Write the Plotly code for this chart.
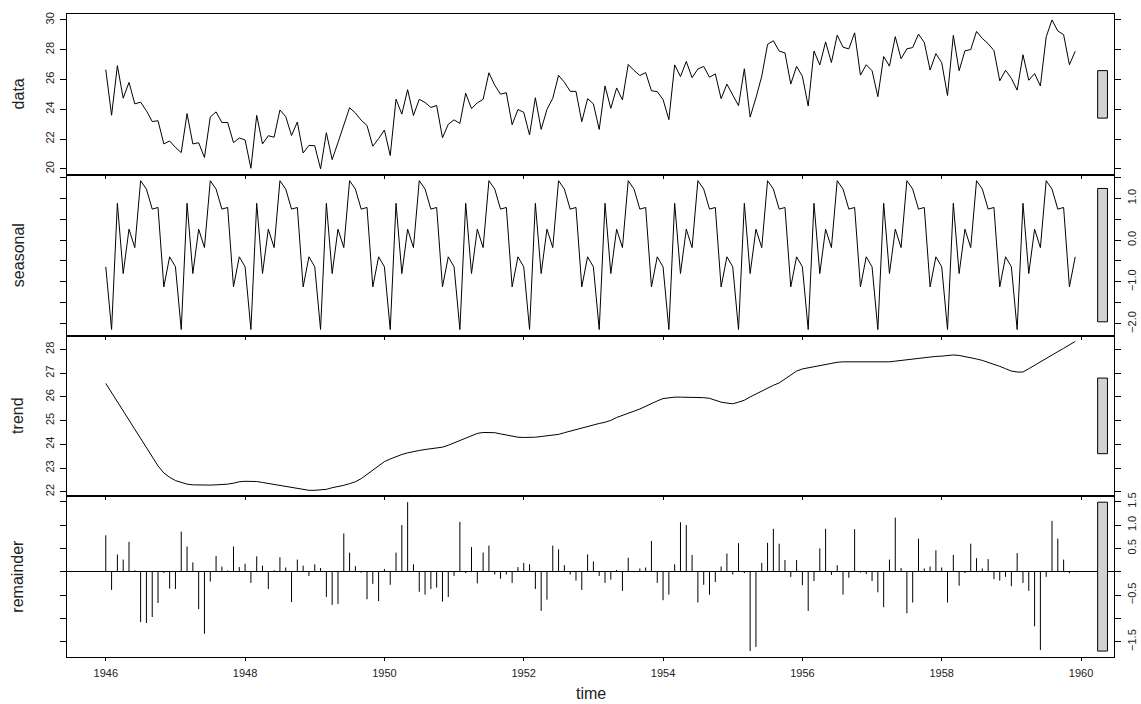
import plotly.graph_objects as go

# ---------------- data ----------------
years = list(range(1946, 1960))
months = list(range(12))
time = [y + m / 12 for y in years for m in months]

data = [
    26.663, 23.598, 26.931, 24.740, 25.806, 24.364, 24.477, 23.901, 23.175, 23.227, 21.672, 21.870,
    21.439, 21.089, 23.709, 21.669, 21.752, 20.761, 23.479, 23.824, 23.105, 23.110, 21.759, 22.073,
    21.937, 20.035, 23.590, 21.672, 22.222, 22.123, 23.950, 23.504, 22.238, 23.142, 21.059, 21.573,
    21.548, 20.000, 22.424, 20.615, 21.761, 22.874, 24.104, 23.748, 23.262, 22.907, 21.519, 22.025,
    22.604, 20.894, 24.677, 23.673, 25.320, 23.583, 24.671, 24.454, 24.122, 24.252, 22.084, 22.991,
    23.287, 23.049, 25.076, 24.037, 24.430, 24.667, 26.451, 25.618, 25.014, 25.110, 22.964, 23.981,
    23.798, 22.270, 24.775, 22.646, 23.988, 24.737, 26.276, 25.816, 25.210, 25.199, 23.162, 24.707,
    24.364, 22.644, 25.565, 24.062, 25.431, 24.635, 27.009, 26.606, 26.268, 26.462, 25.246, 25.180,
    24.657, 23.304, 26.982, 26.199, 27.210, 26.122, 26.706, 26.878, 26.152, 26.379, 24.712, 25.688,
    24.990, 24.239, 26.721, 23.475, 24.767, 26.219, 28.361, 28.599, 27.914, 27.784, 25.693, 26.881,
    26.217, 24.218, 27.914, 26.975, 28.527, 27.139, 28.982, 28.169, 28.056, 29.136, 26.291, 26.987,
    26.589, 24.848, 27.543, 26.896, 28.878, 27.390, 28.065, 28.141, 29.048, 28.484, 26.634, 27.735,
    27.132, 24.924, 28.963, 26.589, 27.931, 28.009, 29.229, 28.759, 28.405, 27.945, 25.912, 26.619,
    26.076, 25.286, 27.660, 25.951, 26.398, 25.565, 28.865, 30.000, 29.261, 29.012, 26.992, 27.897,
]

seasonal = [
    -0.64, -2.14, 0.88, -0.80, 0.26, -0.18, 1.42, 1.22, 0.74, 0.78, -1.12, -0.40,
    -0.64, -2.14, 0.88, -0.80, 0.26, -0.18, 1.42, 1.22, 0.74, 0.78, -1.12, -0.40,
    -0.64, -2.14, 0.88, -0.80, 0.26, -0.18, 1.42, 1.22, 0.74, 0.78, -1.12, -0.40,
    -0.64, -2.14, 0.88, -0.80, 0.26, -0.18, 1.42, 1.22, 0.74, 0.78, -1.12, -0.40,
    -0.64, -2.14, 0.88, -0.80, 0.26, -0.18, 1.42, 1.22, 0.74, 0.78, -1.12, -0.40,
    -0.64, -2.14, 0.88, -0.80, 0.26, -0.18, 1.42, 1.22, 0.74, 0.78, -1.12, -0.40,
    -0.64, -2.14, 0.88, -0.80, 0.26, -0.18, 1.42, 1.22, 0.74, 0.78, -1.12, -0.40,
    -0.64, -2.14, 0.88, -0.80, 0.26, -0.18, 1.42, 1.22, 0.74, 0.78, -1.12, -0.40,
    -0.64, -2.14, 0.88, -0.80, 0.26, -0.18, 1.42, 1.22, 0.74, 0.78, -1.12, -0.40,
    -0.64, -2.14, 0.88, -0.80, 0.26, -0.18, 1.42, 1.22, 0.74, 0.78, -1.12, -0.40,
    -0.64, -2.14, 0.88, -0.80, 0.26, -0.18, 1.42, 1.22, 0.74, 0.78, -1.12, -0.40,
    -0.64, -2.14, 0.88, -0.80, 0.26, -0.18, 1.42, 1.22, 0.74, 0.78, -1.12, -0.40,
    -0.64, -2.14, 0.88, -0.80, 0.26, -0.18, 1.42, 1.22, 0.74, 0.78, -1.12, -0.40,
    -0.64, -2.14, 0.88, -0.80, 0.26, -0.18, 1.42, 1.22, 0.74, 0.78, -1.12, -0.40,
]

trend = [
    26.57, 26.18, 25.80, 25.41, 25.02, 24.63, 24.24, 23.85, 23.46, 23.09, 22.79, 22.61,
    22.47, 22.39, 22.32, 22.29, 22.28, 22.28, 22.28, 22.29, 22.29, 22.32, 22.36, 22.42,
    22.44, 22.45, 22.43, 22.39, 22.35, 22.29, 22.25, 22.21, 22.17, 22.12, 22.08, 22.06,
    22.06, 22.07, 22.10, 22.17, 22.21, 22.27, 22.34, 22.42, 22.55, 22.73, 22.93, 23.11,
    23.27, 23.38, 23.48, 23.57, 23.64, 23.70, 23.74, 23.78, 23.82, 23.85, 23.88, 23.96,
    24.06, 24.18, 24.29, 24.39, 24.46, 24.50, 24.51, 24.49, 24.44, 24.39, 24.33, 24.30,
    24.29, 24.29, 24.30, 24.33, 24.35, 24.38, 24.42, 24.49, 24.56, 24.63, 24.70, 24.77,
    24.83, 24.88, 24.93, 25.01, 25.13, 25.23, 25.31, 25.40, 25.49, 25.61, 25.72, 25.83,
    25.93, 25.97, 25.99, 25.99, 25.99, 25.99, 25.99, 25.97, 25.94, 25.86, 25.78, 25.74,
    25.71, 25.78, 25.86, 26.00, 26.13, 26.25, 26.38, 26.49, 26.59, 26.75, 26.93, 27.09,
    27.18, 27.23, 27.28, 27.34, 27.39, 27.44, 27.46, 27.48, 27.48, 27.48, 27.46, 27.46,
    27.46, 27.46, 27.46, 27.48, 27.51, 27.54, 27.58, 27.62, 27.65, 27.67, 27.70, 27.71,
    27.72, 27.75, 27.77, 27.75, 27.71, 27.65, 27.60, 27.54, 27.46, 27.39, 27.29, 27.19,
    27.09, 27.05, 27.05, 27.19, 27.34, 27.48, 27.62, 27.78, 27.91, 28.05, 28.20, 28.34,
]

remainder = [
    0.78, -0.39, 0.37, 0.26, 0.64, 0.03, -1.08, -1.10, -0.97, -0.67, -0.03, -0.36,
    -0.37, 0.86, 0.54, 0.20, -0.80, -1.33, -0.21, 0.34, 0.11, 0.03, 0.54, 0.10,
    0.17, -0.24, 0.33, 0.13, -0.37, 0.03, 0.31, 0.09, -0.65, 0.26, 0.13, -0.09,
    0.16, 0.08, -0.54, -0.71, -0.69, 0.82, 0.41, 0.12, -0.02, -0.59, -0.26, -0.63,
    0.06, -0.28, 0.41, 1.00, 1.49, 0.16, -0.43, -0.49, -0.37, -0.34, -0.64, -0.54,
    -0.09, 1.07, -0.03, 0.53, -0.25, 0.41, 0.56, -0.06, -0.15, -0.06, -0.24, 0.10,
    0.19, 0.16, -0.37, -0.84, -0.60, 0.56, 0.48, 0.14, -0.06, -0.19, -0.39, 0.37,
    0.22, -0.09, -0.24, -0.17, 0.04, -0.41, 0.30, -0.01, 0.07, 0.09, 0.66, -0.24,
    -0.61, -0.49, 0.16, 1.06, 1.00, 0.36, -0.66, -0.28, -0.49, -0.22, 0.11, 0.39,
    -0.06, 0.61, -0.03, -1.70, -1.61, 0.19, 0.62, 0.92, 0.60, 0.25, -0.11, 0.25,
    -0.29, -0.84, -0.20, 0.50, 0.92, -0.07, 0.14, -0.49, -0.13, 0.91, -0.02, -0.05,
    -0.20, -0.44, -0.76, 0.26, 1.16, 0.08, -0.89, -0.66, 0.71, 0.07, 0.11, 0.46,
    0.09, -0.66, 0.36, -0.30, -0.03, 0.60, 0.29, 0.07, 0.27, -0.16, -0.19, -0.11,
    -0.31, 0.40, -0.24, -0.41, -1.17, -1.68, -0.11, 1.09, 0.71, 0.26, -0.03, -0.01,
]

panel_names = ["data", "seasonal", "trend", "remainder"]
x_tick_vals = [1946, 1948, 1950, 1952, 1954, 1956, 1958, 1960]
data_ticks = [20, 22, 24, 26, 28, 30]
seasonal_ticks = [-2.0, -1.5, -1.0, -0.5, 0.0, 0.5, 1.0, 1.5]
seasonal_labels = ["\u22122.0", "", "\u22121.0", "", "0.0", "", "1.0", ""]
trend_ticks = [22, 23, 24, 25, 26, 27, 28]
remainder_ticks = [-1.5, -1.0, -0.5, 0.0, 0.5, 1.0, 1.5]
remainder_labels = ["\u22121.5", "", "\u22120.5", "", "0.5", "1.0", "1.5"]

# ---------------- figure ----------------
FONT = "Liberation Sans, Arial, sans-serif"
series = [data, seasonal, trend, remainder]


def ext_range(v):
    lo, hi = min(v), max(v)
    d = 0.04 * (hi - lo)
    return [lo - d, hi + d]


xr = ext_range(time)
yranges = [ext_range(s) for s in series]

fig = go.Figure()
line_style = dict(color="black", width=1)
fig.add_trace(go.Scatter(x=time, y=data, mode="lines", line=line_style, xaxis="x", yaxis="y"))
fig.add_trace(go.Scatter(x=time, y=seasonal, mode="lines", line=line_style, xaxis="x2", yaxis="y2"))
fig.add_trace(go.Scatter(x=time, y=trend, mode="lines", line=line_style, xaxis="x3", yaxis="y3"))
hx, hy = [], []
for t, r in zip(time, remainder):
    hx += [t, t, None]
    hy += [0, r, None]
fig.add_trace(go.Scatter(x=hx, y=hy, mode="lines", line=line_style, xaxis="x4", yaxis="y4"))

domains = [[0.75, 1.0], [0.5, 0.75], [0.25, 0.5], [0.0, 0.25]]
sides = ["left", "right", "left", "right"]
tvals = [data_ticks, seasonal_ticks, trend_ticks, remainder_ticks]
ttext = [[str(v) for v in data_ticks], seasonal_labels, [str(v) for v in trend_ticks], remainder_labels]

layout = dict(
    width=1141, height=704,
    margin=dict(l=67, r=27, t=14, b=47),
    paper_bgcolor="white", plot_bgcolor="white",
    showlegend=False, hovermode=False,
    font=dict(family=FONT, size=11, color="#222"),
)

for i in range(4):
    sfx = "" if i == 0 else str(i + 1)
    layout["xaxis" + sfx] = dict(
        domain=[0, 1], anchor="y" + sfx, range=xr, automargin=False,
        tickvals=x_tick_vals, ticks="outside", ticklen=3, tickcolor="black",
        showticklabels=(i == 3), showline=True, mirror=True,
        linecolor="black", linewidth=1, showgrid=False, zeroline=False,
        tickfont=dict(family=FONT, size=11, color="#222"),
        ticklabelstandoff=3,
    )
    ax = dict(
        domain=domains[i], anchor="x" + sfx, range=yranges[i], side=sides[i],
        automargin=False,
        tickvals=tvals[i], ticktext=ttext[i], tickangle=-90,
        ticks="outside", ticklen=6, tickcolor="black",
        showline=True, mirror="ticks", linecolor="black", linewidth=1,
        showgrid=False, zeroline=False,
        tickfont=dict(family=FONT, size=11, color="#222"),
        ticklabelstandoff=2,
    )
    if i == 3:
        ax.update(zeroline=True, zerolinecolor="black", zerolinewidth=1)
    layout["yaxis" + sfx] = ax

fig.update_layout(**layout)

# range bars (R plot.stl style)
mx = min(max(s) - min(s) for s in series)
dx = (xr[1] - xr[0]) / 64
for i, s in enumerate(series):
    sfx = "" if i == 0 else str(i + 1)
    mid = (max(s) + min(s)) / 2
    fig.add_shape(type="rect", xref="x" + sfx, yref="y" + sfx,
                  x0=xr[1] - dx, x1=xr[1] - 0.4 * dx,
                  y0=mid - mx / 2, y1=mid + mx / 2,
                  fillcolor="#D3D3D3", line=dict(color="black", width=1))

# panel labels
for i, name in enumerate(panel_names):
    fig.add_annotation(text=name, xref="paper", yref="paper",
                       x=-0.0468, y=(domains[i][0] + domains[i][1]) / 2,
                       textangle=-90, showarrow=False, xanchor="center", yanchor="middle",
                       font=dict(family=FONT, size=16, color="#222"))

fig.add_annotation(text="time", xref="paper", yref="paper", x=0.5, y=-0.056,
                   showarrow=False, xanchor="center", yanchor="middle",
                   font=dict(family=FONT, size=16, color="#222"))

fig.write_html("out.html",
               config={"displayModeBar": False, "staticPlot": True},
               post_script="document.body.style.margin='0px';document.body.style.overflow='hidden';")
